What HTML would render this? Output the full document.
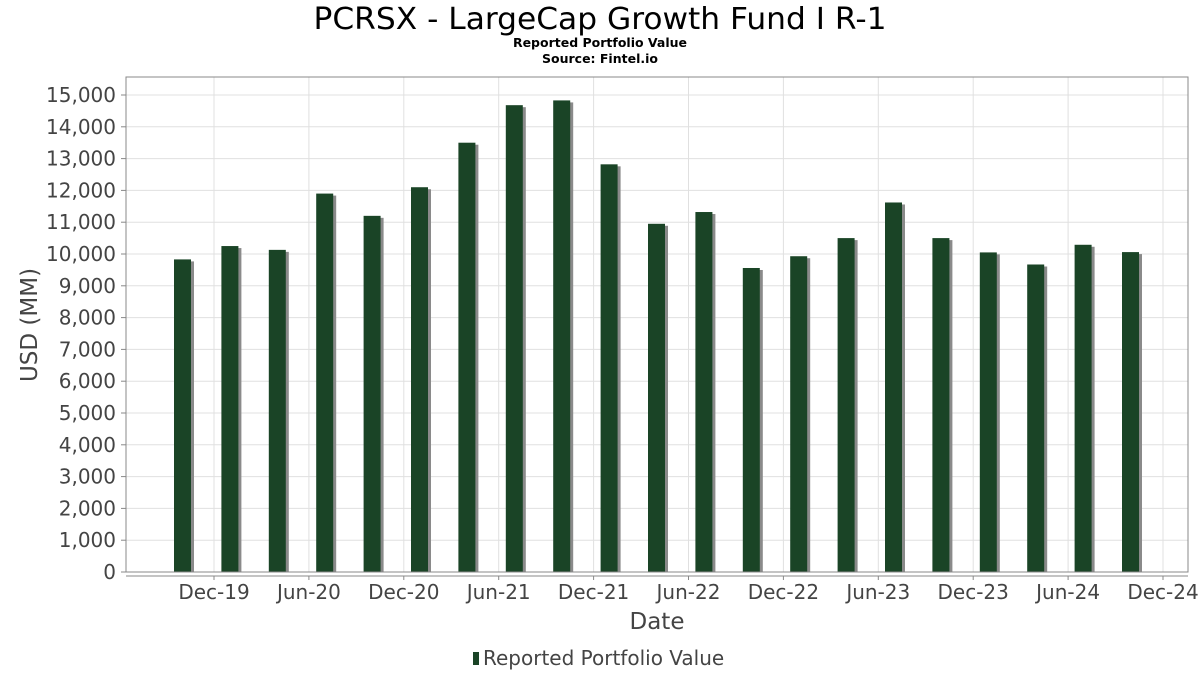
<!DOCTYPE html>
<html><head><meta charset="utf-8"><style>
body{margin:0;background:#fff;font-family:"DejaVu Sans","Liberation Sans",sans-serif;}
svg text{font-family:"DejaVu Sans","Liberation Sans",sans-serif;}
</style></head><body>
<svg id="chart" width="1200" height="675" xmlns="http://www.w3.org/2000/svg">
<rect width="1200" height="675" fill="#fff"/>
<text x="600" y="29" text-anchor="middle" font-size="30" textLength="573" lengthAdjust="spacingAndGlyphs" fill="#000">PCRSX - LargeCap Growth Fund I R-1</text>
<text x="600" y="47" text-anchor="middle" font-size="12.5" font-weight="bold" fill="#000">Reported Portfolio Value</text>
<text x="600" y="63" text-anchor="middle" font-size="12.5" font-weight="bold" fill="#000">Source: Fintel.io</text>
<g id="grid"></g>
<g id="bars"></g>
<rect x="126" y="77" width="1062" height="495" fill="none" stroke="#888" stroke-width="1"/>
<line x1="126" y1="576" x2="1188" y2="576" stroke="#888"/>
<g id="yticks"></g>
<g id="xticks"></g>
<text transform="translate(37,325) rotate(-90)" text-anchor="middle" font-size="23" fill="#444">USD (MM)</text>
<text x="657" y="629" text-anchor="middle" font-size="23" fill="#444">Date</text>
<g>
<rect x="473" y="652" width="6" height="13" fill="#1a4426"/>
<text x="483" y="665" font-size="20" fill="#444">Reported Portfolio Value</text>
</g>
</svg>
<script>
const values=[9830,10250,10130,11900,11200,12100,13500,14680,14830,12820,10950,11320,9560,9930,10500,11620,10500,10050,9670,10290,10060];
const xTickLabels=["Dec-19","Jun-20","Dec-20","Jun-21","Dec-21","Jun-22","Dec-22","Jun-23","Dec-23","Jun-24","Dec-24"];
const yTickValues=[0,1000,2000,3000,4000,5000,6000,7000,8000,9000,10000,11000,12000,13000,14000,15000];
const NS="http://www.w3.org/2000/svg";
function y(v){return 572-v*(477/15000);}
function xBar(i){return 182.5+i*47.4;}
function xTick(j){return 214+j*94.9;}
function mk(tag,attrs,parent){const e=document.createElementNS(NS,tag);for(const k in attrs)e.setAttribute(k,attrs[k]);document.getElementById(parent).appendChild(e);return e;}
yTickValues.forEach(v=>{
 const g=mk('line',{x1:126,x2:1188,y1:y(v),y2:y(v),stroke:'#e0e0e0'},'grid');
 
 
 const t=mk('text',{x:116,y:y(v)+7,'text-anchor':'end','font-size':20,fill:'#444'},'yticks');
 t.textContent=v.toLocaleString('en-US');
 
 
 const tk=mk('line',{x1:121,x2:126,y1:y(v),y2:y(v),stroke:'#888'},'yticks');
 
 
});
xTickLabels.forEach((l,j)=>{
 const x=xTick(j);
 const g=mk('line',{x1:x,x2:x,y1:77,y2:572,stroke:'#e0e0e0'},'grid');
 
 
 const tk=mk('line',{x1:x,x2:x,y1:576,y2:580,stroke:'#888'},'xticks');
 
 
 const t=mk('text',{x:x,y:599,'text-anchor':'middle','font-size':20,fill:'#444'},'xticks');
 t.textContent=l;
 
 
});
values.forEach((v,i)=>{
 const cx=xBar(i);
 const s=mk('rect',{x:cx-8.5+3,y:y(v)+2,width:17,height:572-y(v)-2,fill:'#8a8a8a'},'bars');
 
 
 const b=mk('rect',{x:cx-8.5,y:y(v),width:17,height:572-y(v),fill:'#1a4426'},'bars');
 
 
});
</script>
</body></html>
